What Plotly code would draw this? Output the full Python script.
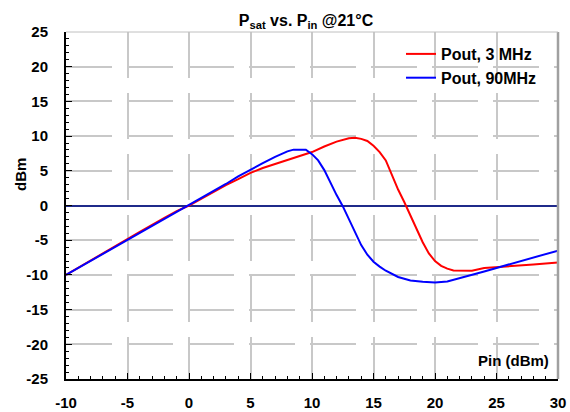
import plotly.graph_objects as go

# Data
pin_3mhz = [-10, -8, -6, -4, -2, -1, 0, 1, 2, 3, 4, 5, 6, 7, 8, 9, 10, 11, 12, 13, 13.5, 14, 14.5,
            15, 15.5, 16, 16.5, 17, 17.5, 18, 18.5, 19, 19.5, 20, 20.5, 21, 21.5, 22, 23, 24, 25,
            26, 27, 28, 29, 30]
pout_3mhz = [-10, -7.9, -5.9, -3.8, -1.8, -0.8, 0, 1.0, 1.95, 2.95, 3.8, 4.7, 5.4, 6.0, 6.6, 7.1,
             7.7, 8.5, 9.2, 9.7, 9.77, 9.6, 9.3, 8.6, 7.7, 6.5, 4.3, 2.3, 0.5, -1.4, -3.3, -5.3,
             -6.9, -8.0, -8.7, -9.1, -9.35, -9.4, -9.4, -9.0, -8.9, -8.8, -8.7, -8.5, -8.35, -8.2]

pin_90mhz = [-10, -8, -6, -4, -2, -1, 0, 1, 2, 3, 4, 5, 6, 7, 8, 8.5, 9, 9.5, 10, 10.5, 11, 11.5,
             12, 12.5, 13, 13.5, 14, 14.5, 15, 15.5, 16, 17, 18, 19, 20, 21, 22, 23, 24, 25, 26,
             27, 28, 29, 30]
pout_90mhz = [-10, -8.0, -6.0, -4.0, -2.0, -1.0, 0, 1.0, 2.0, 3.1, 4.2, 5.2, 6.1, 7.0, 7.8, 8.05,
              8.1, 8.05, 7.4, 6.5, 5.1, 3.2, 1.5, -0.1, -2.0, -3.9, -5.7, -7.1, -8.1, -8.8, -9.4,
              -10.3, -10.8, -11.0, -11.1, -10.95, -10.5, -10.05, -9.5, -9.0, -8.5, -8.0, -7.5,
              -7.0, -6.5]

x_ticks = [-10, -5, 0, 5, 10, 15, 20, 25, 30]
x_tick_labels = ["-10", "-5", "0", "5", "10", "15", "20", "25", "30"]
y_ticks = [-25, -20, -15, -10, -5, 0, 5, 10, 15, 20, 25]
y_tick_labels = ["-25", "-20", "-15", "-10", "-5", "0", "5", "10", "15", "20", "25"]

series_names = ["Pout, 3 MHz", "Pout, 90MHz"]
title_text = "P<sub>sat</sub> vs. P<sub>in</sub> @21°C"
x_label = "Pin (dBm)"
y_label = "dBm"

FONT = "Liberation Sans, Arial, sans-serif"
TICKFONT = dict(family=FONT, size=15, color="black", weight="bold")
BIGFONT = dict(family=FONT, size=16, color="black", weight="bold")

fig = go.Figure()
fig.add_trace(go.Scatter(x=pin_3mhz, y=pout_3mhz, mode="lines", name=series_names[0],
                         legendgroup="a", line=dict(color="#ff0000", width=2)))
fig.add_trace(go.Scatter(x=pin_90mhz, y=pout_90mhz, mode="lines", name=series_names[1],
                         legendgroup="b", line=dict(color="#0000ff", width=2)))

grid_dash = "46px,15px"
fig.update_layout(
    width=570, height=412,
    margin=dict(l=66, r=12, t=32, b=33, autoexpand=False),
    paper_bgcolor="white", plot_bgcolor="white",
    font=dict(family=FONT, size=15, color="black"),
    title=dict(text=title_text, x=306 / 570, xanchor="center", y=1 - 20 / 412, yanchor="middle",
               font=BIGFONT),
    showlegend=True,
    legend=dict(x=(401 - 66) / 492, xanchor="left", y=(379 - 37) / 347, yanchor="top",
                bgcolor="rgba(0,0,0,0)", borderwidth=0, traceorder="grouped",
                tracegroupgap=0, font=BIGFONT),
    xaxis=dict(range=[-10, 30], tickmode="array", tickvals=x_ticks, ticktext=x_tick_labels,
               automargin=False,
               showgrid=True, gridcolor="#c8c8c8", gridwidth=1.5, griddash=grid_dash,
               zeroline=False, showline=True,
               linecolor="black", linewidth=2, ticks="inside", ticklen=6, tickwidth=1,
               tickcolor="black", ticklabelstandoff=9, tickfont=TICKFONT,
               minor=dict(dtick=1, tick0=0, ticks="inside", ticklen=3, tickcolor="black",
                          showgrid=False)),
    yaxis=dict(range=[-25, 25], tickmode="array", tickvals=y_ticks, ticktext=y_tick_labels,
               automargin=False,
               showgrid=True, gridcolor="#c8c8c8", gridwidth=1.5, griddash=grid_dash,
               zeroline=True, zerolinecolor="#1f2a8a",
               zerolinewidth=1.5, showline=True, linecolor="black", linewidth=2,
               ticks="inside", ticklen=6, tickwidth=1, tickcolor="black", ticklabelstandoff=13,
               tickfont=TICKFONT,
               minor=dict(dtick=1, tick0=0, ticks="inside", ticklen=3, tickcolor="black",
                          showgrid=False)),
    shapes=[
        dict(type="line", xref="paper", yref="paper", x0=1, x1=1, y0=0, y1=1,
             line=dict(color="#a0a0a0", width=2.5)),
        dict(type="line", xref="paper", yref="paper", x0=0, x1=1, y0=1, y1=1,
             line=dict(color="#c0c0c0", width=1)),
    ],
    annotations=[
        dict(text=x_label, xref="paper", yref="y", x=(551 - 66) / 492, y=-22.3,
             xanchor="right", yanchor="middle", showarrow=False, font=TICKFONT),
        dict(text=y_label, xref="paper", yref="y", x=(21 - 66) / 492, y=4.4, textangle=-90,
             xanchor="center", yanchor="middle", showarrow=False, font=TICKFONT),
    ],
)

# remove the browser's default 8px body margin so the figure sits at the page origin
fig.write_html("out.html", config={"displayModeBar": False},
               post_script="document.body.style.margin='0';document.body.style.overflow='hidden';")
